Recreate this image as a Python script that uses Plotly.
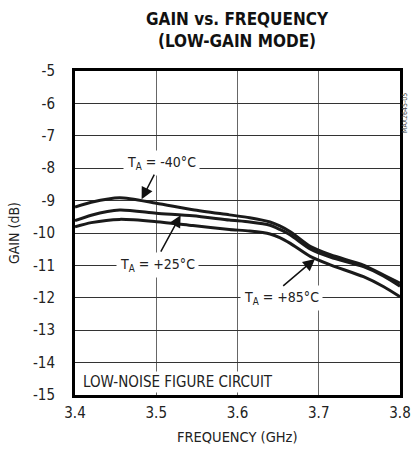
import plotly.graph_objects as go

freq = [3.40, 3.42, 3.455, 3.50, 3.545, 3.59, 3.615, 3.64, 3.652, 3.665, 3.69, 3.715, 3.755, 3.78, 3.80]
gain_m40 = [-9.20, -9.05, -8.91, -9.08, -9.28, -9.44, -9.53, -9.66, -9.78, -9.96, -10.42, -10.68, -10.99, -11.30, -11.55]
gain_p25 = [-9.62, -9.45, -9.29, -9.39, -9.47, -9.60, -9.66, -9.76, -9.89, -10.06, -10.50, -10.75, -11.04, -11.33, -11.64]
gain_p85 = [-9.81, -9.68, -9.58, -9.65, -9.77, -9.89, -9.94, -10.03, -10.14, -10.32, -10.73, -10.99, -11.35, -11.66, -11.97]

x_ticks = [3.4, 3.5, 3.6, 3.7, 3.8]
x_ticktext = ["3.4", "3.5", "3.6", "3.7", "3.8"]
y_ticks = [-5, -6, -7, -8, -9, -10, -11, -12, -13, -14, -15]
y_ticktext = ["-5", "-6", "-7", "-8", "-9", "-10", "-11", "-12", "-13", "-14", "-15"]

FONT = "DejaVu Sans Condensed, Liberation Sans Narrow, sans-serif"
TXT = "#222222"

fig = go.Figure()
for g in (gain_m40, gain_p25, gain_p85):
    fig.add_trace(go.Scatter(x=freq, y=g, mode="lines",
                             line=dict(color="#1a1a1a", width=3, shape="spline", smoothing=0.7),
                             showlegend=False, hoverinfo="skip"))

fig.update_layout(
    width=411, height=454,
    margin=dict(l=75, r=11, t=71, b=59, autoexpand=False),
    paper_bgcolor="white", plot_bgcolor="white",
    font=dict(family=FONT, size=14, color=TXT),
)
fig.update_xaxes(range=[3.4, 3.8], tickvals=x_ticks, ticktext=x_ticktext,
                 showgrid=True, gridcolor="#666666", gridwidth=1,
                 showline=True, linecolor="black", linewidth=3, mirror=True,
                 ticks="", ticklabelstandoff=2, zeroline=False, automargin=False,
                 tickfont=dict(family=FONT, size=15, color=TXT))
fig.update_yaxes(range=[-15, -5], tickvals=y_ticks, ticktext=y_ticktext,
                 showgrid=True, gridcolor="#333333", gridwidth=1,
                 showline=True, linecolor="black", linewidth=3, mirror=True,
                 ticks="", ticklabelstandoff=14, zeroline=False, automargin=False,
                 tickfont=dict(family=FONT, size=15, color=TXT))

# title
fig.add_annotation(text="<b>GAIN vs. FREQUENCY<br>(LOW-GAIN MODE)</b>",
                   xref="paper", yref="paper", x=0.5, y=1, yshift=41,
                   yanchor="middle", showarrow=False,
                   font=dict(family=FONT, size=17, color="#111111"))

# axis titles
fig.add_annotation(text="GAIN (dB)", xref="paper", yref="paper", x=0, y=0.5,
                   xshift=-61, xanchor="center", yanchor="middle",
                   textangle=-90, showarrow=False,
                   font=dict(family=FONT, size=14, color=TXT))
fig.add_annotation(text="FREQUENCY (GHz)", xref="paper", yref="paper", x=0.5, y=0,
                   yshift=-42, yanchor="middle", showarrow=False,
                   font=dict(family=FONT, size=14.5, color=TXT))

# curve labels
labels = [
    ("T<sub>A</sub> = -40°C", 3.5065, -7.85),
    ("T<sub>A</sub> = +25°C", 3.5015, -11.0),
    ("T<sub>A</sub> = +85°C", 3.654, -12.0),
]
for t, lx, ly in labels:
    fig.add_annotation(text=t, x=lx, y=ly, showarrow=False, bgcolor="white",
                       borderpad=3, font=dict(family=FONT, size=14, color=TXT))

arrows = [
    (3.482, -8.96, 3.4985, -8.15),
    (3.530, -9.45, 3.5046, -10.62),
    (3.6954, -10.80, 3.6544, -11.67),
]
for tx, ty, sx, sy in arrows:
    fig.add_annotation(text="", x=tx, y=ty, ax=sx, ay=sy, axref="x", ayref="y",
                       showarrow=True, arrowhead=2, arrowsize=1.6, arrowwidth=1.5,
                       arrowcolor="#111111", standoff=0)

fig.add_annotation(text="LOW-NOISE FIGURE CIRCUIT", xref="paper", x=0, xshift=6,
                   xanchor="left", y=-14.6, showarrow=False, bgcolor="white",
                   font=dict(family=FONT, size=15, color=TXT))

fig.add_annotation(text="MAX2645-05", xref="paper", yref="paper", x=1, xshift=5,
                   xanchor="center", y=1 - 20/324, textangle=-90, showarrow=False,
                   font=dict(family=FONT, size=7, color="#444444"))

fig.write_html("out.html", config={"displayModeBar": False},
               post_script="document.body.style.margin='0';document.body.style.overflow='hidden';")
